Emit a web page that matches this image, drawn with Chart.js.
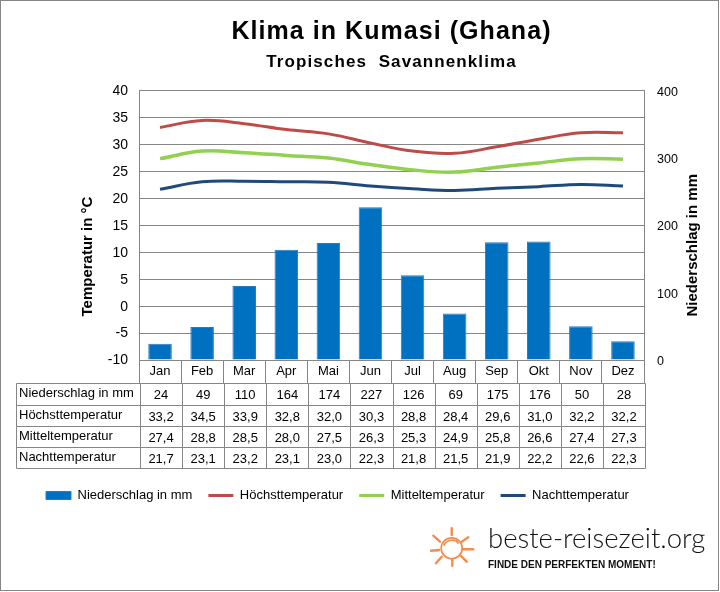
<!DOCTYPE html>
<html><head><meta charset="utf-8">
<style>
html,body{margin:0;padding:0;background:#fff;overflow:hidden}
#wrap{position:relative;width:720px;height:592px}
#frame{position:absolute;left:0;top:0;width:717px;height:589px;border:1px solid #868686}
canvas{position:absolute;left:0;top:0}
#logo{position:absolute;left:430px;top:525px;width:46px;height:46px}
#brand{position:absolute;left:488px;top:521px;font:300 27.5px Lato,"Open Sans",sans-serif;color:#111;white-space:nowrap}
#slogan{position:absolute;left:488px;top:559px;font:bold 10px "Liberation Sans",sans-serif;color:#111;white-space:nowrap}
</style></head><body>
<div id="wrap">
<div id="frame"></div>
<canvas id="c" width="720" height="592"></canvas>
<svg id="logo" viewBox="0 0 46 46" fill="none" stroke="#F58B4C" stroke-linecap="round" stroke-width="2.4">
<circle cx="21.7" cy="23.3" r="10.5" stroke-width="1.7"/><path d="M14 20c3-6 12-6 14-2" stroke-width="1.7"/>
<path d="M21.7 3.3V10M31.7 16.7l6.6-4.4M33.3 24.3h10M30 30l6.7 6.7M22.3 35v5.7M11.7 31.7L6 38.3M1 25.7l8-.7M3.3 10.7l6.7 6"/>
</svg>
<div id="brand">beste-reisezeit.org</div>
<div id="slogan">FINDE DEN PERFEKTEN MOMENT!</div>
</div>
<script src="https://cdn.jsdelivr.net/npm/chart.js@4"></script>
<script>
const months = ['Jan','Feb','Mar','Apr','Mai','Jun','Jul','Aug','Sep','Okt','Nov','Dez'];
const niederschlag = [24,49,110,164,174,227,126,69,175,176,50,28];
const hoechst = [33.2,34.5,33.9,32.8,32.0,30.3,28.8,28.4,29.6,31.0,32.2,32.2];
const mittel = [27.4,28.8,28.5,28.0,27.5,26.3,25.3,24.9,25.8,26.6,27.4,27.3];
const nacht = [21.7,23.1,23.2,23.1,23.0,22.3,21.8,21.5,21.9,22.2,22.6,22.3];
const seriesNames = ['Niederschlag in mm','Höchsttemperatur','Mitteltemperatur','Nachttemperatur'];
const leftAxisTitle = 'Temperatur in °C';
const rightAxisTitle = 'Niederschlag in mm';
const FONT = '"Liberation Sans", Arial, sans-serif';
const GRID = '#868686';
const fmt = v => v.toFixed(1).replace('.', ',');

const tablePlugin = {
  id: 'dataTable',
  afterLayout(chart) {
    // the reference's headings are letter-spaced
    chart.boxes.filter(b => b.options && typeof b.options.text === 'string' && !b._spaced).forEach(b => {
      const orig = b.draw;
      b._spaced = true;
      b.draw = function () {
        const ctx = chart.ctx;
        ctx.save();
        ctx.letterSpacing = b.options.font.size > 20 ? '1.05px' : '1.1px';
        orig.apply(b, arguments);
        ctx.restore();
      };
    });
  },
  afterDraw(chart) {
    const ctx = chart.ctx, x = chart.scales.x;
    const rows = [niederschlag.map(String), hoechst.map(fmt), mittel.map(fmt), nacht.map(fmt)];
    const rowY = [383.5, 405.5, 426.5, 447.5, 468.5];
    const left = 17, step = x.getPixelForTick(1) - x.getPixelForTick(0);
    const first = x.getPixelForTick(0) - step / 2 + 1;
    ctx.save();
    ctx.strokeStyle = GRID; ctx.lineWidth = 1;
    ctx.beginPath();
    rowY.forEach(y => { ctx.moveTo(left - .5, y); ctx.lineTo(first + step * 12 + .5, y); });
    [left - .5].concat(months.map((m, i) => Math.round(first + step * i) + .5), Math.round(first + step * 12) + .5)
      .forEach(px => { ctx.moveTo(px, rowY[0]); ctx.lineTo(px, rowY[4]); });
    ctx.stroke();
    ctx.fillStyle = '#000'; ctx.font = '13px ' + FONT; ctx.textBaseline = 'middle';
    rows.forEach((r, ri) => {
      const cy = (rowY[ri] + rowY[ri + 1]) / 2;
      ctx.textAlign = 'left';
      ctx.fillText(seriesNames[ri], 19, cy - 1);
      ctx.textAlign = 'center';
      r.forEach((t, i) => ctx.fillText(t, x.getPixelForTick(i) + 1, cy + 1));
    });
    // axis titles start low on the axis, as in the reference
    ctx.font = 'bold 15px ' + FONT; ctx.textAlign = 'left';
    [[leftAxisTitle, 88], [rightAxisTitle, 693]].forEach(([t, px]) => {
      ctx.save();
      ctx.translate(px, 316.5);
      ctx.rotate(-Math.PI / 2);
      ctx.fillText(t, 0, 0);
      ctx.restore();
    });
    ctx.restore();
  }
};

const lineDs = (label, data, color, w) => ({
  type: 'line', label, data, yAxisID: 'y', borderColor: color, backgroundColor: color,
  borderWidth: w, pointRadius: 0, tension: 0.4, fill: false, order: 1
});

new Chart(document.getElementById('c'), {
  data: {
    labels: months,
    datasets: [
      { type: 'bar', label: seriesNames[0], data: niederschlag, yAxisID: 'y1',
        backgroundColor: '#0070C0', borderColor: '#2F78BE', borderWidth: 1,
        categoryPercentage: 1, barPercentage: 0.56, order: 2 },
      lineDs(seriesNames[1], hoechst, '#BE4B48', 3),
      lineDs(seriesNames[2], mittel, '#92D050', 3.5),
      lineDs(seriesNames[3], nacht, '#1F497D', 3)
    ]
  },
  plugins: [tablePlugin],
  options: {
    responsive: false, animation: false, devicePixelRatio: 1,
    layout: { padding: { left: 30, right: 0, top: 0, bottom: 80 } },
    plugins: {
      tooltip: { enabled: false },
      title: { display: true, text: 'Klima in Kumasi (Ghana)', color: '#000', fullSize: false,
        font: { family: FONT, size: 25, weight: 'bold', lineHeight: 1.2 }, padding: { top: 17, bottom: 2 } },
      subtitle: { display: true, text: 'Tropisches  Savannenklima', color: '#000', fullSize: false,
        font: { family: FONT, size: 17, weight: 'bold', lineHeight: 1.2 }, padding: { top: 3, bottom: 18.4 } },
      legend: { position: 'bottom', align: 'start',
        labels: { color: '#000', font: { family: FONT, size: 13 }, padding: 16,
          usePointStyle: true, pointStyleWidth: 25, boxHeight: 8,
          generateLabels(chart) {
            return chart.data.datasets.map((d, i) => ({
              text: d.label, datasetIndex: i, fillStyle: d.backgroundColor,
              strokeStyle: d.borderColor,
              lineWidth: i === 0 ? 1 : 3, pointStyle: i === 0 ? 'rect' : 'line', hidden: false
            }));
          } } }
    },
    scales: {
      x: {
        grid: { drawOnChartArea: false, color: GRID, tickLength: 23, tickColor: GRID, offset: true },
        border: { color: GRID },
        ticks: { color: '#000', font: { family: FONT, size: 13 }, padding: -19, maxRotation: 0, autoSkip: false },
        afterFit(s) { s.height = 113; }
      },
      y: {
        position: 'left', min: -10, max: 40,
        grid: { color: GRID, drawTicks: false }, border: { color: GRID },
        ticks: { stepSize: 5, color: '#000', font: { family: FONT, size: 14 }, padding: 11, labelOffset: 0.5 },
        afterFit(s) { s.width = 109; }
      },
      y1: {
        position: 'right', min: 0, max: 400,
        grid: { drawOnChartArea: false, drawTicks: false }, border: { color: GRID },
        ticks: { stepSize: 100, color: '#000', font: { family: FONT, size: 12.5 }, padding: 13, labelOffset: 1.5 },
        afterFit(s) { s.width = 76; }
      }
    }
  }
});
</script>
</body></html>
